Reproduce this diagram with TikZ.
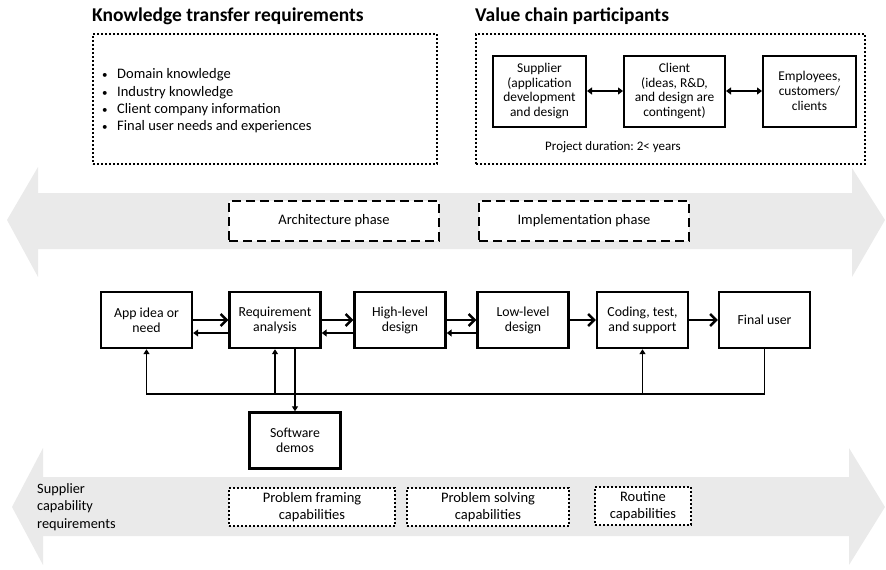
\documentclass[tikz,border=0pt]{standalone}
\usepackage{fontspec}
\setmainfont{Carlito}
\usepackage{tikz}
\usetikzlibrary{positioning, arrows.meta}

\definecolor{bandgray}{RGB}{234,234,234}
\newcommand{\bull}{\makebox[15pt][l]{\fontsize{11}{11}\selectfont\textbullet}}

\tikzset{
  title/.style={anchor=base west, inner sep=0pt, font=\fontsize{19.5}{22}\selectfont\bfseries},
  dotbox/.style={draw, line width=2pt, dash pattern=on 2pt off 2pt, fill=white, align=center, inner sep=2pt},
  capbox/.style={dotbox, font=\fontsize{14.5}{16.7}\selectfont, minimum height=38pt},
  phasebox/.style={draw, line width=2.4pt, dash pattern=on 9pt off 5pt, fill=white, minimum width=210pt,
    minimum height=40pt, font=\fontsize{14.5}{16}\selectfont},
  partbox/.style={draw, line width=2pt, minimum height=71pt, align=center, inner sep=2pt,
    font=\fontsize{13.4}{14.7}\selectfont},
  procbox/.style={draw, fill=white, line width=2.4pt, minimum width=91pt, minimum height=56pt, align=center,
    inner sep=2pt, font=\fontsize{13.8}{15}\selectfont},
  fwd/.style={line width=2.4pt, -{Straight Barb[length=6pt, width=12pt, line width=2.4pt]}},
  back/.style={line width=2pt, -{Triangle[length=5pt, width=7pt]}},
  dblarrow/.style={line width=2pt, {Triangle[length=5pt, width=7pt]}-{Triangle[length=5pt, width=7pt]}},
  fback/.style={line width=1.7pt, -{Triangle[length=5pt, width=6pt]}}
}

\begin{document}
\begin{tikzpicture}[x=1pt, y=-1pt, font=\fontsize{13}{15}\selectfont]
    \useasboundingbox (0,0) rectangle (886,570);

    % Draw gray bands
    \fill[bandgray] (7,220) -- (38,167) -- (38,193) -- (852,193) -- (852,168) -- (885,220)
      -- (852,277) -- (852,249) -- (38,249) -- (38,277) -- cycle;
    \fill[bandgray] (12,507) -- (43,448) -- (43,477) -- (849,477) -- (849,448) -- (885,507)
      -- (849,565) -- (849,536) -- (43,536) -- (43,565) -- cycle;

    % Knowledge transfer requirements
    \node[title] (ktitle) at (92,21) {Knowledge transfer requirements};
    \node[dotbox, minimum width=344pt, minimum height=130pt] (kbox) at (265,99) {};
    \node[anchor=west, align=left, inner sep=0pt, font=\fontsize{14.5}{17.3}\selectfont] (klist) at (102,101)
      {\bull Domain knowledge\\ \bull Industry knowledge\\ \bull Client company information\\ \bull Final user needs and experiences};

    % Value chain participants
    \node[title] (vtitle) at (475,21) {Value chain participants};
    \node[dotbox, minimum width=389pt, minimum height=130pt] (vbox) at (670.5,99) {};
    \foreach \n/\x/\w/\t in {sup/539.5/93pt/{Supplier\\(application\\development\\and design},
                             cli/674.5/101pt/{Client\\(ideas, R\&D,\\and design are\\contingent)},
                             emp/809.5/93pt/{Employees,\\customers/\\clients}} {
      \node[partbox, minimum width=\w] (\n) at (\x,91) {\t};
    }
    \draw[dblarrow] (sup) -- (cli);
    \draw[dblarrow] (cli) -- (emp);
    \node[anchor=west, inner sep=0pt] (dur) at (545,147) {Project duration:\ 2< years};

    % Phases
    \node[phasebox] (arch) at (334,221) {Architecture phase};
    \node[phasebox] (impl) at (584,221) {Implementation phase};

    % Process chain
    \foreach \n/\x/\t in {app/146.5/{App idea or\\need}, req/275/{Requirement\\analysis},
                          high/400/{High-level\\design}, low/523/{Low-level\\design},
                          cod/642.5/{Coding, test,\\and support}, fin/764.5/{Final user}} {
      \node[procbox] (\n) at (\x,320) {\t};
    }
    \foreach \a/\b in {app/req, req/high, high/low, low/cod, cod/fin} {
      \draw[fwd] (\a.east) -- (\b.west);
    }
    \foreach \a/\b in {app/req, req/high, high/low} {
      \draw[back] ([yshift=-13pt]\b.west) -- ([yshift=-13pt]\a.east);
    }

    % Feedback loop
    \coordinate (fb) at (0,394);
    \draw[fback] (fin.south) |- (app.south |- fb) -- (app.south);
    \draw[fback] (req.south |- fb) -- (req.south);
    \draw[fback] (cod.south |- fb) -- (cod.south);
    \node[procbox] (demo) at (295,440.5) {Software\\demos};
    \draw[fback] (req.south -| demo.north) -- (demo.north);

    % Supplier capability requirements
    \node[anchor=west, align=left, inner sep=0pt, font=\fontsize{14.3}{17.5}\selectfont] (supcap) at (37,507)
      {Supplier\\capability\\requirements};
    \node[capbox, minimum width=166pt] (frame) at (312,507) {Problem framing\\capabilities};
    \node[capbox, minimum width=162pt] (solve) at (488,507) {Problem solving\\capabilities};
    \node[capbox, minimum width=96pt] (routine) at (643,506) {Routine\\capabilities};

\end{tikzpicture}
\end{document}
